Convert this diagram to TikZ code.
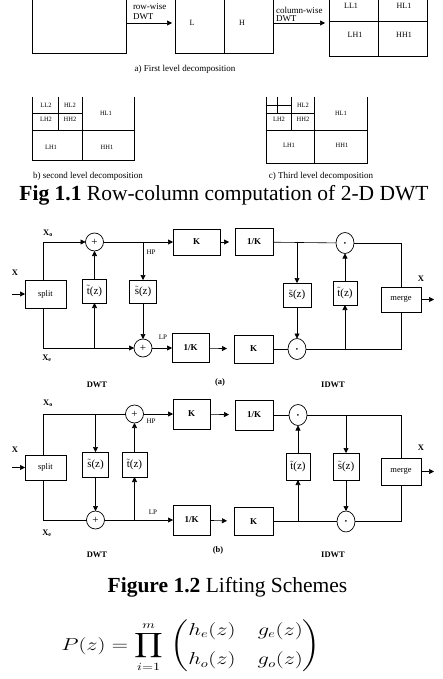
\documentclass[tikz,border=0pt]{standalone}
\usepackage{amsmath}
\usepackage{graphicx}
\usepackage{fontspec}
\setmainfont{Liberation Serif}
\usetikzlibrary{arrows.meta,shapes.geometric}
\begin{document}
\begin{tikzpicture}[x=1pt,y=-1pt,
  every node/.style={inner sep=0pt, outer sep=0pt},
  ln/.style={line width=0.6pt},
  arr/.style={line width=0.6pt,-{Triangle[length=5pt,width=5pt]}},
  tinylbl/.style={font=\fontsize{8}{8}\selectfont},
  wee/.style={font=\fontsize{6.5}{6.5}\selectfont},
  capt/.style={font=\fontsize{9}{9}\selectfont},
  blk/.style={draw, line width=0.8pt, font=\fontsize{9}{9}\selectfont\bfseries},
  pblk/.style={draw, line width=0.8pt, font=\fontsize{8.5}{8.5}\selectfont},
  fblk/.style={draw, line width=0.8pt, font=\fontsize{11}{11}\selectfont},
  sumnode/.style={draw, circle, line width=0.7pt, minimum size=18pt, font=\fontsize{11}{11}\selectfont},
  mulnode/.style={draw, ellipse, line width=0.7pt, minimum width=18pt, minimum height=21pt},
  lab/.style={font=\fontsize{8.5}{8.5}\selectfont\bfseries},
  smlbl/.style={font=\fontsize{7}{7}\selectfont},
  bigcap/.style={font=\fontsize{21.5}{24}\selectfont}
]
\useasboundingbox (0,0) rectangle (443,679);

% ---------------- Fig 1.1 a) ----------------
\draw[ln] (32,0) -- (32,53) -- (126,53) -- (126,0);
\draw[ln] (175,0) -- (175,53) -- (273,53) -- (273,0);
\draw[ln] (224,0) -- (224,53);
\draw[ln] (329,0) -- (329,56) -- (427,56) -- (427,0);
\draw[ln] (329,21) -- (427,21);
\draw[ln] (378,0) -- (378,56);
\coordinate (rwA) at (126,23);
\coordinate (rwB) at (172,23);
\coordinate (cwA) at (273,23);
\coordinate (cwB) at (325,23);
\draw[arr] (rwA) -- (rwB);
\draw[arr] (cwA) -- (cwB);
\node[capt, anchor=west] (rw1) at (133,7) {row-wise};
\node[capt, anchor=west] (rw2) at (133,17) {DWT};
\node[capt, anchor=west] (cw1) at (276,10) {column-wise};
\node[capt, anchor=west] (cw2) at (276,19) {DWT};
\node[tinylbl] (tL) at (192,23) {L};
\node[tinylbl] (tH) at (242,23) {H};
\node[tinylbl] (aLL1) at (351,6) {LL1};
\node[tinylbl] (aHL1) at (404,6) {HL1};
\node[tinylbl] (aLH1) at (355,35) {LH1};
\node[tinylbl] (aHH1) at (404,35) {HH1};
\node[capt] (capa) at (185,69) {a) First level decomposition};

% ---------------- Fig 1.1 b) ----------------
\draw[ln] (32,97) -- (32,160) -- (134,160) -- (134,97);
\draw[ln] (32,130) -- (134,130);
\draw[ln] (82,97) -- (82,160);
\draw[ln] (58,97) -- (58,130);
\draw[ln] (32,113) -- (82,113);
\node[wee] (bLL2) at (46,105) {LL2};
\node[wee] (bHL2) at (70,105) {HL2};
\node[wee] (bLH2) at (46,119) {LH2};
\node[wee] (bHH2) at (70,119) {HH2};
\node[wee] (bHL1) at (106,113) {HL1};
\node[wee] (bLH1) at (51,147) {LH1};
\node[wee] (bHH1) at (107,147) {HH1};
\node[capt] (capb) at (88,176) {b) second level decomposition};

% ---------------- Fig 1.1 c) ----------------
\draw[ln] (266,97) -- (266,163) -- (367,163) -- (367,97);
\draw[ln] (266,130) -- (367,130);
\draw[ln] (314,97) -- (314,163);
\draw[ln] (291,97) -- (291,130);
\draw[ln] (266,113) -- (314,113);
\draw[ln] (277,97) -- (277,113);
\draw[ln] (266,105) -- (291,105);
\node[wee] (cHL2) at (303,105) {HL2};
\node[wee] (cLH2) at (279,119) {LH2};
\node[wee] (cHH2) at (303,119) {HH2};
\node[wee] (cHL1) at (341,113) {HL1};
\node[wee] (cLH1) at (289,145) {LH1};
\node[wee] (cHH1) at (342,145) {HH1};
\node[capt] (capc) at (321,176) {c) Third level decomposition};

\node[bigcap] (fig1) at (224,195) {\textbf{Fig 1.1} Row-column computation of 2-D DWT};

% ---------------- Lifting (a) ----------------
\node[pblk, minimum width=41pt, minimum height=28pt] (sp1) at (45.5,294) {split};
\node[sumnode] (p1) at (94.5,242) {+};
\node[sumnode] (p2) at (143,348) {+};
\node[fblk, minimum width=24pt, minimum height=24pt] (t1) at (94.5,291) {$\tilde{\textrm{t}}$(z)};
\node[fblk, minimum width=27pt, minimum height=23pt] (s1) at (143,291.5) {$\tilde{\textrm{s}}$(z)};
\node[blk, minimum width=47pt, minimum height=26pt] (K1) at (196.5,242) {K};
\node[blk, minimum width=37pt, minimum height=29pt] (iK1) at (190.5,348) {1/K};
\node[blk, minimum width=38pt, minimum height=27pt] (iK2) at (254,242) {1/K};
\node[blk, minimum width=39pt, minimum height=28pt] (K2) at (253.5,349) {K};
\node[mulnode] (d1) at (345,243) {\scalebox{0.45}{$\bullet$}};
\node[mulnode] (d2) at (297,349) {\scalebox{0.45}{$\bullet$}};
\node[fblk, minimum width=28pt, minimum height=24pt] (s2) at (297,295) {$\tilde{\textrm{s}}$(z)};
\node[fblk, minimum width=24pt, minimum height=24pt] (t2) at (345,293) {$\tilde{\textrm{t}}$(z)};
\node[pblk, minimum width=40pt, minimum height=25pt] (m1) at (401,299.5) {merge};
\coordinate (in1) at (12,294);
\coordinate (o1) at (434,299.5);
\coordinate (hp1) at (143,242);
\coordinate (tb1) at (94.5,348);
\coordinate (sb2) at (297,243);
\coordinate (tb2) at (345,349);

\draw[arr] (in1) -- (sp1);
\draw[arr] ([xshift=-2.5pt]sp1.north) |- (p1);
\draw[arr] ([xshift=-2.5pt]sp1.south) |- (p2);
\draw[arr] (p1) -- (K1);
\draw[arr] (hp1) -- (s1);
\draw[arr] (s1) -- (p2);
\draw[arr] (t1) -- (p1);
\draw[arr] (tb1) -- (t1);
\draw[arr] (p2) -- (iK1);
\draw[arr, shorten >=6pt] (K1) -- (iK2);
\draw[arr, shorten >=7pt] (iK1) -- (K2);
\draw[ln] (iK2) -- (d1);
\draw[arr] (sb2) -- (s2);
\draw[arr] (s2) -- (d2);
\draw[arr] (t2) -- (d1);
\draw[arr] (tb2) -- (t2);
\draw[ln] (K2) -- (d2);
\draw[ln] (d1) -| (m1);
\draw[ln] (d2) -| (m1);
\draw[arr] (m1) -- (o1);

\node[lab] (lX1) at (15,273) {X};
\node[lab] (lXo1) at (48,233) {X\textsubscript{o}};
\node[lab] (lXe1) at (47,358) {X\textsubscript{e}};
\node[smlbl] (lHP1) at (151,252) {HP};
\node[smlbl] (lLP1) at (163,337) {LP};
\node[lab] (lXr1) at (421,279) {X};
\node[lab] (lDWT1) at (97,385) {DWT};
\node[lab] (la) at (220,382) {(a)};
\node[lab] (lIDWT1) at (333,385) {IDWT};

% ---------------- Lifting (b) ----------------
\node[pblk, minimum width=41pt, minimum height=25pt] (sp2) at (45.5,467.5) {split};
\node[sumnode] (p3) at (134.5,414) {+};
\node[sumnode] (p4) at (95.5,520) {+};
\node[fblk, minimum width=26pt, minimum height=25pt] (s3) at (95.5,464.5) {$\tilde{\textrm{s}}$(z)};
\node[fblk, minimum width=25pt, minimum height=25pt] (t3) at (134.5,464.5) {$\tilde{\textrm{t}}$(z)};
\node[blk, minimum width=37pt, minimum height=30pt] (K3) at (191.5,414) {K};
\node[blk, minimum width=37pt, minimum height=30pt] (iK3) at (191.5,520) {1/K};
\node[blk, minimum width=38pt, minimum height=30pt] (iK4) at (254,415) {1/K};
\node[blk, minimum width=39pt, minimum height=28pt] (K4) at (253.5,521.5) {K};
\node[mulnode] (d3) at (298,415) {\scalebox{0.45}{$\bullet$}};
\node[mulnode] (d4) at (346,521.5) {\scalebox{0.45}{$\bullet$}};
\node[fblk, minimum width=24pt, minimum height=27pt] (t4) at (298,466.5) {$\tilde{\textrm{t}}$(z)};
\node[fblk, minimum width=26pt, minimum height=27pt] (s4) at (346,466.5) {$\tilde{\textrm{s}}$(z)};
\node[pblk, minimum width=40pt, minimum height=27pt] (m2) at (401,471.5) {merge};
\coordinate (in2) at (12,467.5);
\coordinate (o2) at (434,471.5);
\coordinate (sb3) at (95.5,414);
\coordinate (tb3) at (134.5,520);
\coordinate (sb4) at (346,415);
\coordinate (tb4) at (298,521.5);

\draw[arr] (in2) -- (sp2);
\draw[ln] ([xshift=-2.5pt]sp2.north) |- (p3);
\draw[ln] ([xshift=-2.5pt]sp2.south) |- (p4);
\draw[arr] (sb3) -- (s3);
\draw[arr] (s3) -- (p4);
\draw[arr] (t3) -- (p3);
\draw[arr] (tb3) -- (t3);
\draw[arr] (p3) -- (K3);
\draw[arr] (p4) -- (iK3);
\draw[arr, shorten >=6pt] (K3) -- (iK4);
\draw[arr, shorten >=7pt] (iK3) -- (K4);
\draw[ln] (iK4) -- (d3);
\draw[arr] (sb4) -- (s4);
\draw[arr] (s4) -- (d4);
\draw[arr] (t4) -- (d3);
\draw[arr] (tb4) -- (t4);
\draw[ln] (K4) -- (d4);
\draw[ln] (d3) -| (m2);
\draw[ln] (d4) -| (m2);
\draw[arr] (m2) -- (o2);

\node[lab] (lX2) at (15,450) {X};
\node[lab] (lXo2) at (48,403) {X\textsubscript{o}};
\node[lab] (lXe2) at (47,533) {X\textsubscript{e}};
\node[smlbl] (lHP2) at (151,421) {HP};
\node[smlbl] (lLP2) at (153,512) {LP};
\node[lab] (lXr2) at (421,448) {X};
\node[lab] (lDWT2) at (97,555) {DWT};
\node[lab] (lb) at (218,550) {(b)};
\node[lab] (lIDWT2) at (333,555) {IDWT};

\node[bigcap] (fig2) at (227.5,587) {\textbf{Figure 1.2} Lifting Schemes};

\node (eq) at (191,646) {\scalebox{1.3}[1]{\fontsize{16}{18}\selectfont
 $\displaystyle P(z)=\prod_{i=1}^{m}\,\begin{pmatrix} h_e(z) & \hspace{7pt} g_e(z)\\[11pt] h_o(z) & \hspace{7pt} g_o(z)\end{pmatrix}$}};
\end{tikzpicture}
\end{document}
